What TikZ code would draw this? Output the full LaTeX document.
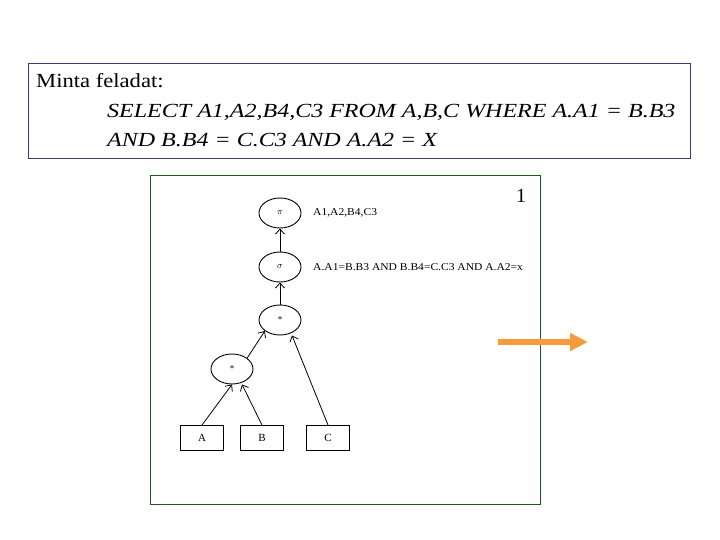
\documentclass[tikz,border=0pt]{standalone}
\usepackage{fontspec}
\setmainfont{Liberation Serif}
\usepackage{tikz}
\usetikzlibrary{arrows.meta, shapes.geometric}

\begin{document}
\begin{tikzpicture}[x=1pt, y=-1pt, every node/.style={inner sep=0pt}]

    \useasboundingbox (0,0) rectangle (720,540);

    % --- 1. Feladat doboza (kék keret) ---
    \tikzset{feladatszoveg/.style={anchor=base west, font=\fontsize{20}{24}\selectfont}}
    \draw[line width=0.8pt, draw={rgb,255:red,60;green,60;blue,110}] (28,63) rectangle (690,158);
    \node[feladatszoveg, xscale=1.13] (cim) at (36,88) {Minta feladat:};
    \node[feladatszoveg, xscale=1.2, font=\fontsize{20}{24}\selectfont\itshape] (sor1) at (107,118) {SELECT A1,A2,B4,C3 FROM A,B,C WHERE A.A1 = B.B3};
    \node[feladatszoveg, xscale=1.2, font=\fontsize{20}{24}\selectfont\itshape] (sor2) at (107,147) {AND B.B4 = C.C3 AND A.A2 = X};

    % --- 2. Lekérdezési fa kerete (zöld) ---
    \draw[line width=0.8pt, draw={rgb,255:red,30;green,90;blue,30}] (150,175) rectangle (540,504);
    \node[font=\fontsize{20}{24}\selectfont] (szam) at (521,196) {1};

    % --- 3. Fa csúcsai ---
    \tikzset{muvelet/.style={ellipse, draw, line width=0.9pt, minimum width=42, minimum height=30, font=\fontsize{9}{10}\selectfont}}
    \tikzset{relacio/.style={rectangle, draw, line width=0.9pt, minimum width=43, minimum height=25, font=\fontsize{11}{12}\selectfont}}
    \node[muvelet] (pi) at (280,213) {$\pi$};
    \node[muvelet] (sigma) at (280,267) {$\sigma$};
    \node[muvelet] (join2) at (280,320) {*};
    \node[muvelet] (join1) at (232,369) {*};
    \node[relacio] (relA) at (202,438) {A};
    \node[relacio] (relB) at (262,438) {B};
    \node[relacio] (relC) at (328,438) {C};

    % --- 4. Feltételek a csúcsok mellett ---
    \tikzset{feltetel/.style={anchor=west, xscale=1.1, font=\fontsize{10.5}{12}\selectfont}}
    \node[feltetel] (proj) at (313,213) {A1,A2,B4,C3};
    \node[feltetel] (szelekcio) at (313,267) {A.A1=B.B3 AND B.B4=C.C3 AND A.A2=x};

    % --- 5. Élek (nyitott nyílhegy) ---
    \tikzset{el/.style={-{Straight Barb[length=5pt, width=9pt]}, line width=0.8pt}}
    \draw[el] (sigma) -- (pi);
    \draw[el] (join2) -- (sigma);
    \draw[el] (join1.north east) -- (join2.south west);
    \draw[el] (relA.north) -- (join1.south);
    \draw[el] (relB.north) -- ([xshift=10]join1.south);
    \draw[el] (relC.north) -- ([xshift=12]join2.south);

    % --- 6. Narancs nyíl ---
    \coordinate (nyil-kezd) at (498,342);
    \coordinate (nyil-veg) at (588,342);
    \draw[line width=5.5pt, draw={rgb,255:red,247;green,154;blue,58}, -{Triangle[length=18pt, width=17pt]}] (nyil-kezd) -- (nyil-veg);

\end{tikzpicture}
\end{document}
